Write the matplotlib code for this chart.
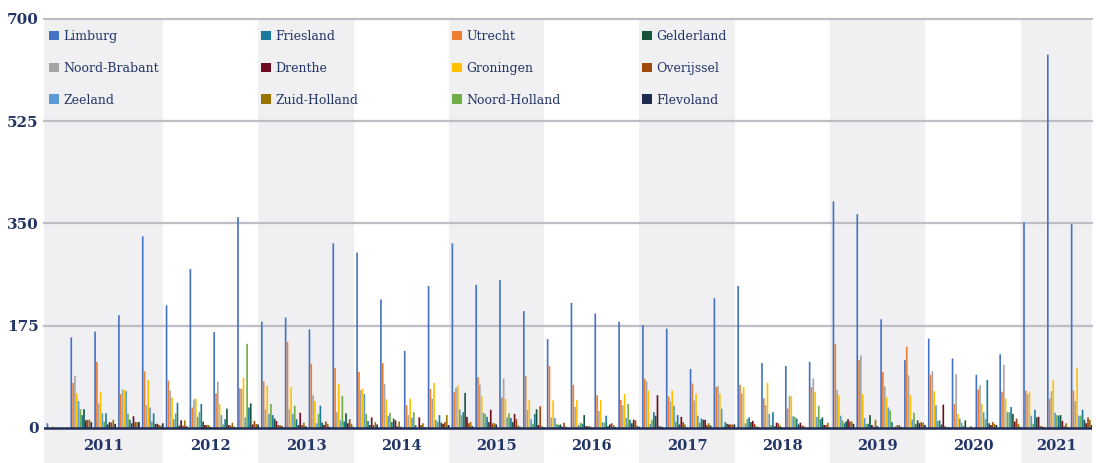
import numpy as np
import matplotlib
matplotlib.use('Agg')
import matplotlib.pyplot as plt

# one entry per quarter on the x axis
years = [2011] * 5 + [y for y in range(2012, 2021) for q in range(4)] + [2021] * 3

limburg = [8, 155, 165, 193, 328, 210, 272, 164, 361, 182, 189, 169, 316, 300, 220, 132, 243, 316, 245, 253, 200, 152,
           214, 196, 182, 176, 170, 101, 222, 243, 111, 106, 113, 388, 366, 186, 116, 153, 119, 91, 126, 352, 639, 349]
utrecht = [0, 77, 113, 58, 97, 81, 35, 59, 68, 80, 147, 110, 103, 96, 111, 39, 67, 61, 87, 52, 89, 106,
           74, 56, 48, 84, 54, 76, 70, 74, 51, 33, 70, 144, 116, 96, 139, 91, 41, 66, 62, 64, 50, 64]
noord_brabant = [0, 89, 42, 66, 39, 64, 49, 79, 67, 32, 32, 56, 27, 65, 75, 22, 50, 69, 74, 85, 31, 18,
                 36, 29, 39, 80, 45, 47, 72, 59, 39, 55, 85, 65, 124, 71, 90, 97, 92, 73, 108, 58, 63, 46]
groningen = [3, 59, 62, 65, 82, 52, 50, 41, 86, 72, 70, 46, 75, 67, 49, 50, 77, 73, 54, 50, 48, 47,
             48, 48, 58, 64, 64, 59, 59, 70, 77, 54, 62, 56, 58, 53, 56, 63, 24, 41, 50, 62, 82, 103]
zeeland = [0, 46, 25, 63, 35, 15, 19, 22, 18, 24, 24, 8, 13, 58, 21, 18, 14, 32, 26, 18, 15, 17,
           5, 10, 17, 7, 38, 21, 33, 8, 24, 20, 19, 21, 17, 35, 14, 39, 16, 27, 27, 21, 26, 21]
noord_holland = [0, 32, 11, 24, 11, 25, 27, 6, 144, 41, 38, 24, 55, 24, 26, 27, 11, 22, 24, 25, 7, 7,
                 9, 9, 41, 14, 11, 9, 3, 15, 5, 19, 38, 13, 7, 30, 26, 12, 9, 15, 27, 7, 22, 21]
friesland = [0, 22, 25, 14, 25, 43, 41, 15, 35, 22, 15, 38, 11, 12, 10, 5, 22, 27, 19, 17, 24, 5,
             7, 21, 14, 27, 22, 16, 10, 18, 27, 16, 15, 8, 7, 10, 7, 13, 3, 82, 36, 31, 21, 31]
gelderland = [0, 32, 6, 8, 7, 4, 11, 33, 42, 16, 5, 9, 25, 5, 16, 0, 9, 60, 10, 10, 32, 6,
              22, 3, 8, 21, 6, 14, 7, 10, 3, 6, 18, 11, 22, 1, 13, 6, 13, 8, 24, 18, 22, 14]
drenthe = [0, 13, 10, 20, 7, 13, 5, 5, 6, 12, 26, 5, 8, 18, 13, 18, 7, 19, 31, 24, 5, 2,
           3, 6, 14, 56, 19, 14, 6, 12, 9, 9, 5, 15, 5, 2, 8, 40, 0, 5, 11, 19, 12, 8]
overijssel = [0, 14, 9, 10, 5, 4, 5, 4, 12, 5, 5, 11, 15, 5, 3, 5, 10, 8, 8, 15, 37, 9,
              3, 8, 13, 3, 10, 5, 6, 7, 8, 4, 5, 11, 2, 5, 10, 3, 0, 10, 16, 3, 3, 18]
zuid_holland = [0, 14, 14, 10, 4, 13, 5, 9, 7, 5, 9, 7, 7, 10, 11, 8, 22, 10, 8, 4, 3, 2,
                3, 5, 4, 3, 6, 8, 6, 3, 4, 3, 9, 11, 14, 5, 9, 1, 3, 7, 7, 3, 8, 14]
flevoland = [0, 10, 7, 10, 8, 3, 2, 2, 6, 3, 3, 2, 2, 6, 2, 1, 5, 3, 6, 2, 1, 1,
             1, 2, 2, 1, 1, 4, 6, 1, 1, 1, 1, 7, 3, 2, 5, 1, 0, 5, 2, 1, 1, 5]

series = [
    ('Limburg', limburg, '#4472C4'),
    ('Utrecht', utrecht, '#ED7D31'),
    ('Noord-Brabant', noord_brabant, '#A5A5A5'),
    ('Groningen', groningen, '#FFC000'),
    ('Zeeland', zeeland, '#5B9BD5'),
    ('Noord-Holland', noord_holland, '#70AD47'),
    ('Friesland', friesland, '#1B7A9C'),
    ('Gelderland', gelderland, '#16553A'),
    ('Drenthe', drenthe, '#6E0A22'),
    ('Overijssel', overijssel, '#9E480E'),
    ('Zuid-Holland', zuid_holland, '#997300'),
    ('Flevoland', flevoland, '#1F2A4F'),
]

navy = '#233566'
band = '#F0F0F2'

fig = plt.figure(figsize=(10.96, 4.63), dpi=100)
ax = fig.add_axes([44 / 1096, 0, 1048 / 1096, 1 - 19 / 463])
n = len(years)
x = np.arange(n)
ax.set_xlim(-0.5, n - 0.5)
ax.set_ylim(-60, 700)

# alternating year bands
for yr in sorted(set(years)):
    idx = [i for i, y in enumerate(years) if y == yr]
    if yr % 2 == 1:
        ax.axvspan(idx[0] - 0.5, idx[-1] + 0.5, color=band, lw=0, zorder=0)
    ax.text(np.mean(idx), -31, str(yr), ha='center', va='center', fontsize=10.5,
            fontweight='bold', family='DejaVu Serif', color=navy)

for v in [175, 350, 525, 700]:
    ax.axhline(v, color='#BDBDC3', lw=1.6, zorder=1, clip_on=False)
ax.axhline(0, color='#1F2D55', lw=1.8, zorder=3)

step = 0.0765
handles = {}
for i, (name, vals, col) in enumerate(series):
    b = ax.bar(x - 0.355 + i * step, vals, width=0.07, color=col, lw=0, zorder=2)
    for r in b:
        r.set_snap(False)
    handles[name] = b

ax.set_yticks([0, 175, 350, 525, 700])
ax.set_yticklabels(['0', '175', '350', '525', '700'], fontsize=11, fontweight='bold',
                   family='DejaVu Serif', color=navy)
ax.tick_params(axis='y', length=0, pad=4)
ax.set_xticks([])
for s in ax.spines.values():
    s.set_visible(False)

# legend: four columns of three
columns = [['Limburg', 'Noord-Brabant', 'Zeeland'],
           ['Friesland', 'Drenthe', 'Zuid-Holland'],
           ['Utrecht', 'Groningen', 'Noord-Holland'],
           ['Gelderland', 'Overijssel', 'Flevoland']]
col_x = [49, 261, 452, 642]
for names, cx in zip(columns, col_x):
    leg = fig.legend([handles[nm] for nm in names], names, loc='upper left',
                     bbox_to_anchor=(cx / 1096, 1 - 30 / 463),
                     frameon=False, borderpad=0, borderaxespad=0, handlelength=0.8,
                     handleheight=0.8, handletextpad=0.35, labelspacing=1.5,
                     prop={'family': 'DejaVu Serif', 'size': 9})
    for t in leg.get_texts():
        t.set_color(navy)

fig.savefig('out.png', dpi=100)
